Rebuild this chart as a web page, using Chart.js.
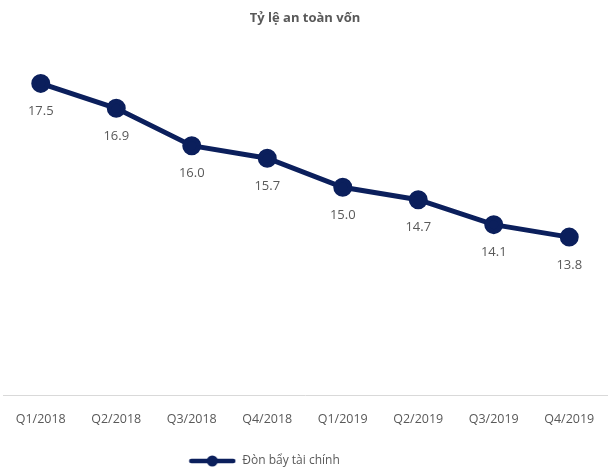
<!DOCTYPE html>
<html>
<head>
<meta charset="utf-8">
<script src="https://cdn.jsdelivr.net/npm/chart.js@4"></script>
<style>
  html, body { margin: 0; padding: 0; background: #fff; }
  #wrap { width: 610px; height: 474px; }
</style>
</head>
<body>
<div id="wrap"><canvas id="capitalChart"></canvas></div>
<script>
// Data
const quarters = ['Q1/2018', 'Q2/2018', 'Q3/2018', 'Q4/2018', 'Q1/2019', 'Q2/2019', 'Q3/2019', 'Q4/2019'];
const leverage = [17.5, 16.9, 16.0, 15.7, 15.0, 14.7, 14.1, 13.8];
const seriesName = 'Đòn bẩy tài chính';
const chartTitle = 'Tỷ lệ an toàn vốn';

const navy = '#0b1f5c';
const gray = '#595959';
const fontFamily = "'Open Sans', 'Noto Sans', sans-serif";

// legend marker: line with a dot in the middle
const marker = document.createElement('canvas');
marker.width = 48;
marker.height = 14;
const mctx = marker.getContext('2d');
mctx.strokeStyle = navy;
mctx.lineWidth = 4.5;
mctx.lineCap = 'round';
mctx.beginPath();
mctx.moveTo(3, 7);
mctx.lineTo(45, 7);
mctx.stroke();
mctx.fillStyle = navy;
mctx.beginPath();
mctx.arc(24, 7, 5.5, 0, Math.PI * 2);
mctx.fill();

// Value labels under each point
const valueLabels = {
    id: 'valueLabels',
    afterDatasetsDraw(chart) {
        const ctx = chart.ctx;
        const meta = chart.getDatasetMeta(0);
        ctx.save();
        ctx.font = '13px ' + fontFamily;
        ctx.fillStyle = gray;
        ctx.textAlign = 'center';
        ctx.textBaseline = 'middle';
        meta.data.forEach((pt, i) => {
            ctx.fillText(leverage[i].toFixed(1), pt.x, pt.y + 28);
        });
        ctx.restore();
    }
};

// Excel puts the legend a bit left of centre and low
const legendShift = {
    id: 'legendShift',
    afterLayout(chart) {
        chart.legend.left -= 41;
        chart.legend.right -= 41;
        chart.legend.top += 3;
        chart.legend.bottom += 3;
    }
};

const ctx = document.getElementById('capitalChart').getContext('2d');
const capitalChart = new Chart(ctx, {
    type: 'line',
    data: {
        labels: quarters,
        datasets: [{
            label: seriesName,
            data: leverage,
            borderColor: navy,
            backgroundColor: navy,
            borderWidth: 5,
            pointRadius: 7,
            pointHoverRadius: 7,
            pointBackgroundColor: navy,
            pointBorderColor: navy,
            tension: 0,
            fill: false
        }]
    },
    options: {
        responsive: true,
        maintainAspectRatio: false,
        animation: false,
        layout: { autoPadding: false, padding: { left: 3, right: 3, top: 0, bottom: 0 } },
        scales: {
            x: {
                offset: true,
                grid: { display: false },
                border: { color: '#d9d9d9', width: 1 },
                ticks: {
                    color: gray,
                    font: { family: fontFamily, size: 12.5 },
                    padding: 9,
                    maxRotation: 0,
                    autoSkip: false
                },
                afterFit(scale) {
                    scale.height += 12;
                }
            },
            y: {
                display: false,
                min: 10,
                max: 18
            }
        },
        plugins: {
            title: {
                display: true,
                text: chartTitle,
                color: gray,
                font: { family: fontFamily, size: 13, weight: 'bold' },
                padding: { top: 10, bottom: 37 }
            },
            legend: {
                position: 'bottom',
                labels: {
                    usePointStyle: true,
                    pointStyleWidth: 48,
                    color: gray,
                    font: { family: fontFamily, size: 12 },
                    padding: 4,
                    generateLabels(chart) {
                        return [{
                            text: seriesName,
                            pointStyle: marker,
                            fontColor: gray,
                            datasetIndex: 0,
                            hidden: false
                        }];
                    }
                }
            },
            tooltip: { enabled: false }
        }
    },
    plugins: [valueLabels, legendShift]
});
</script>
</body>
</html>
